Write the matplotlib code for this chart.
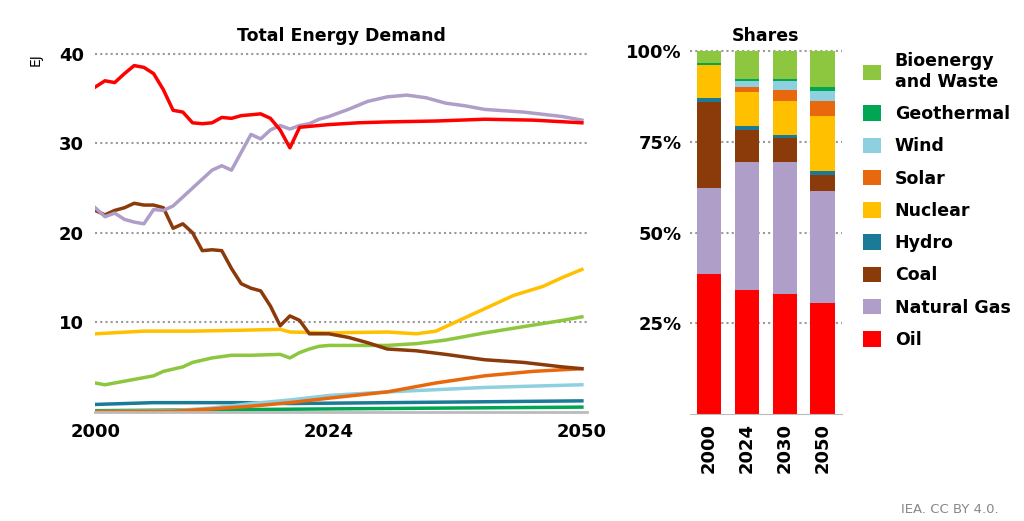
import matplotlib.pyplot as plt
import numpy as np

# Total energy demand (EJ)
oil_y = [2000, 2001, 2002, 2003, 2004, 2005, 2006, 2007, 2008, 2009, 2010, 2011, 2012, 2013, 2014, 2015, 2016, 2017, 2018, 2019, 2020, 2021, 2022, 2023, 2024, 2027, 2030, 2035, 2040, 2045, 2050]
oil = [36.3, 37.0, 36.8, 37.8, 38.7, 38.5, 37.8, 36.0, 33.7, 33.5, 32.3, 32.2, 32.3, 32.9, 32.8, 33.1, 33.2, 33.3, 32.8, 31.5, 29.5, 31.8, 31.9, 32.0, 32.1, 32.3, 32.4, 32.5, 32.7, 32.6, 32.3]
gas_y = [2000, 2001, 2002, 2003, 2004, 2005, 2006, 2007, 2008, 2009, 2010, 2011, 2012, 2013, 2014, 2015, 2016, 2017, 2018, 2019, 2020, 2021, 2022, 2023, 2024, 2026, 2028, 2030, 2032, 2034, 2036, 2038, 2040, 2044, 2048, 2050]
gas = [22.8, 21.8, 22.2, 21.5, 21.2, 21.0, 22.6, 22.5, 23.0, 24.0, 25.0, 26.0, 27.0, 27.5, 27.0, 29.0, 31.0, 30.5, 31.5, 32.0, 31.6, 32.0, 32.2, 32.7, 33.0, 33.8, 34.7, 35.2, 35.4, 35.1, 34.5, 34.2, 33.8, 33.5, 33.0, 32.6]
coal_y = [2000, 2001, 2002, 2003, 2004, 2005, 2006, 2007, 2008, 2009, 2010, 2011, 2012, 2013, 2014, 2015, 2016, 2017, 2018, 2019, 2020, 2021, 2022, 2023, 2024, 2026, 2028, 2030, 2033, 2036, 2040, 2044, 2048, 2050]
coal = [22.5, 22.0, 22.5, 22.8, 23.3, 23.1, 23.1, 22.8, 20.5, 21.0, 20.0, 18.0, 18.1, 18.0, 16.0, 14.3, 13.8, 13.5, 11.8, 9.6, 10.7, 10.2, 8.7, 8.7, 8.7, 8.3, 7.7, 7.0, 6.8, 6.4, 5.8, 5.5, 5.0, 4.8]
nuc_y = [2000, 2005, 2010, 2015, 2019, 2020, 2024, 2030, 2033, 2035, 2037, 2040, 2043, 2046, 2048, 2050]
nuclear = [8.7, 9.0, 9.0, 9.1, 9.2, 8.9, 8.8, 8.9, 8.7, 9.0, 10.0, 11.5, 13.0, 14.0, 15.0, 15.9]
bio_y = [2000, 2001, 2002, 2004, 2006, 2007, 2009, 2010, 2012, 2014, 2016, 2019, 2020, 2021, 2022, 2023, 2024, 2030, 2033, 2036, 2040, 2044, 2048, 2050]
bio = [3.2, 3.0, 3.2, 3.6, 4.0, 4.5, 5.0, 5.5, 6.0, 6.3, 6.3, 6.4, 6.0, 6.6, 7.0, 7.3, 7.4, 7.4, 7.6, 8.0, 8.8, 9.5, 10.2, 10.6]
sol_y = [2000, 2008, 2012, 2016, 2020, 2024, 2030, 2035, 2040, 2045, 2050]
solar = [0.0, 0.05, 0.3, 0.6, 1.0, 1.5, 2.2, 3.2, 4.0, 4.5, 4.8]
wind_y = [2000, 2008, 2012, 2016, 2020, 2024, 2030, 2040, 2050]
wind = [0.0, 0.1, 0.4, 0.9, 1.3, 1.8, 2.2, 2.7, 3.0]
hyd_y = [2000, 2003, 2006, 2010, 2015, 2020, 2030, 2040, 2050]
hydro = [0.8, 0.9, 1.0, 1.0, 1.0, 0.9, 1.0, 1.1, 1.2]
geo_y = [2000, 2024, 2050]
geo = [0.1, 0.3, 0.5]

# Shares (%)
share_years = ["2000", "2024", "2030", "2050"]
sh_oil = [38.5, 34.3, 33.2, 30.7]
sh_gas = [23.9, 35.1, 36.2, 30.7]
sh_coal = [23.5, 8.8, 6.8, 4.4]
sh_hydro = [1.1, 1.1, 0.8, 1.3]
sh_nuclear = [9.1, 9.5, 9.2, 15.1]
sh_solar = [0.0, 1.4, 3.1, 4.0]
sh_wind = [0.0, 1.6, 2.4, 2.9]
sh_geo = [0.7, 0.7, 0.8, 1.1]
sh_bio = [3.2, 7.5, 7.5, 9.8]

c = {"bio": "#8dc63f", "geo": "#00a651", "wind": "#8ecfe0", "solar": "#e8680e",
     "nuc": "#ffc000", "hyd": "#1b7b97", "coal": "#8b3a0a", "gas": "#ae9ec8", "oil": "#ff0000"}

fig = plt.figure(figsize=(10.24, 5.21), dpi=100)
ax = fig.add_axes([0.093, 0.21, 0.48, 0.695])
ax2 = fig.add_axes([0.674, 0.205, 0.148, 0.70])

lines = [(geo_y, geo, "geo"), (hyd_y, hydro, "hyd"), (wind_y, wind, "wind"), (sol_y, solar, "solar"),
         (bio_y, bio, "bio"), (nuc_y, nuclear, "nuc"), (coal_y, coal, "coal"), (gas_y, gas, "gas"), (oil_y, oil, "oil")]
for xs, ys, k in lines:
    ax.plot(xs, ys, color=c[k], lw=2.5)

ax.set_xlim(2000, 2050.5)
ax.set_ylim(0, 40.5)
ax.set_yticks([10, 20, 30, 40])
ax.set_xticks([2000, 2024, 2050])
ax.yaxis.grid(True, linestyle=(0, (1, 1.5)), color="#999999", lw=1.5)
for s in ["top", "right", "left"]:
    ax.spines[s].set_visible(False)
ax.spines["bottom"].set_color("#bbbbbb")
ax.spines["bottom"].set_linewidth(2)
ax.tick_params(length=0, labelsize=13, pad=8)
for t in ax.get_xticklabels() + ax.get_yticklabels():
    t.set_fontweight("bold")
ax.set_title("Total Energy Demand", fontsize=12.5, fontweight="bold", pad=6)
fig.text(0.028, 0.88, "EJ", rotation=90, fontsize=10)

x = np.arange(len(share_years))
bottom = np.zeros(len(x))
stack = [(sh_oil, "oil", "Oil"), (sh_gas, "gas", "Natural Gas"), (sh_coal, "coal", "Coal"),
         (sh_hydro, "hyd", "Hydro"), (sh_nuclear, "nuc", "Nuclear"), (sh_solar, "solar", "Solar"),
         (sh_wind, "wind", "Wind"), (sh_geo, "geo", "Geothermal"), (sh_bio, "bio", "Bioenergy\nand Waste")]
handles = []
for vals, k, lab in stack:
    b = ax2.bar(x, vals, bottom=bottom, color=c[k], width=0.65, label=lab)
    bottom += np.array(vals)
    handles.append(b)
ax2.set_ylim(0, 100.5)
ax2.set_xlim(-0.5, 3.5)
ax2.set_yticks([25, 50, 75, 100])
ax2.set_yticklabels(["25%", "50%", "75%", "100%"])
ax2.set_xticks(x)
ax2.set_xticklabels(share_years, rotation=90)
ax2.yaxis.grid(True, linestyle=(0, (1, 1.5)), color="#999999", lw=1.5)
ax2.set_axisbelow(True)
for s in ["top", "right", "left"]:
    ax2.spines[s].set_visible(False)
ax2.spines["bottom"].set_color("#bbbbbb")
ax2.tick_params(length=0, labelsize=13, pad=6)
for t in ax2.get_xticklabels() + ax2.get_yticklabels():
    t.set_fontweight("bold")
ax2.set_title("Shares", fontsize=12.5, fontweight="bold", pad=6)

leg = fig.legend(handles[::-1], [h.get_label() for h in handles[::-1]], loc="upper left",
                 bbox_to_anchor=(0.828, 0.93), frameon=False, handlelength=1.0, handleheight=1.0,
                 labelspacing=0.82, handletextpad=0.8, prop={"size": 12.5, "weight": "bold"})

fig.text(0.975, 0.015, "IEA. CC BY 4.0.", ha="right", fontsize=9.5, color="#888888")
fig.savefig("out.png", dpi=100)
